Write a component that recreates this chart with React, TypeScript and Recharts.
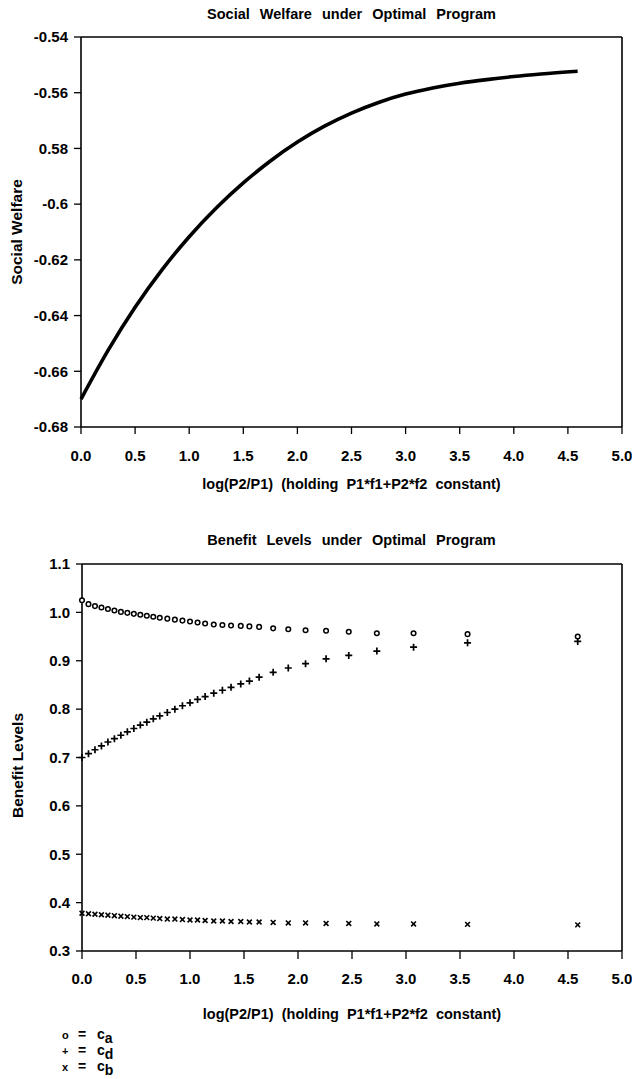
import React from "react";
import { LineChart, Line, ScatterChart, Scatter, XAxis, YAxis, ReferenceLine, Label } from "recharts";

const FONT = "'Liberation Sans', Arial, Helvetica, sans-serif";

// shared x axis
const X_TICKS = [0, 0.5, 1, 1.5, 2, 2.5, 3, 3.5, 4, 4.5, 5];
const X_TICK_LABELS = ["0.0", "0.5", "1.0", "1.5", "2.0", "2.5", "3.0", "3.5", "4.0", "4.5", "5.0"];
const X_TITLE = "log(P2/P1) (holding P1*f1+P2*f2 constant)";

// top panel: social welfare
const WELFARE_X = [0, 0.25, 0.5, 0.75, 1, 1.25, 1.5, 1.75, 2, 2.25, 2.5, 2.75, 3, 3.25, 3.5, 3.75, 4, 4.25, 4.59];
const WELFARE_Y = [
  -0.67, -0.6525, -0.637, -0.6235, -0.6117, -0.6014, -0.5924, -0.5845, -0.5777, -0.572, -0.5673, -0.5635, -0.5605,
  -0.5583, -0.5566, -0.5553, -0.5542, -0.5533, -0.5523,
];
const WELFARE_TICKS = [-0.68, -0.66, -0.64, -0.62, -0.6, -0.58, -0.56, -0.54];
const WELFARE_TICK_LABELS = ["-0.68", "-0.66", "-0.64", "-0.62", "-0.6", "0.58", "-0.56", "-0.54"];

// bottom panel: benefit levels
const BENEFIT_X = [
  0, 0.06, 0.12, 0.18, 0.24, 0.3, 0.36, 0.42, 0.48, 0.54, 0.6, 0.66, 0.72, 0.79, 0.86, 0.93, 1.0, 1.07, 1.14,
  1.22, 1.3, 1.38, 1.47, 1.55, 1.64, 1.77, 1.91, 2.07, 2.26, 2.47, 2.73, 3.07, 3.57, 4.59,
];
const CA = [
  1.025, 1.017, 1.013, 1.01, 1.007, 1.004, 1.001, 0.999, 0.997, 0.995, 0.993, 0.991, 0.989, 0.987, 0.985, 0.983,
  0.981, 0.979, 0.977, 0.975, 0.974, 0.973, 0.972, 0.971, 0.97, 0.967, 0.965, 0.963, 0.962, 0.96, 0.957, 0.957,
  0.955, 0.95,
];
const CD = [
  0.7, 0.708, 0.716, 0.724, 0.732, 0.739, 0.746, 0.753, 0.76, 0.767, 0.773, 0.78, 0.786, 0.793, 0.8, 0.807, 0.813,
  0.82, 0.826, 0.833, 0.839, 0.845, 0.852, 0.858, 0.866, 0.876, 0.885, 0.894, 0.904, 0.911, 0.92, 0.928, 0.937,
  0.94,
];
const CB = [
  0.378, 0.377, 0.376, 0.375, 0.374, 0.373, 0.372, 0.371, 0.37, 0.369, 0.369, 0.368, 0.367, 0.366, 0.366, 0.365,
  0.364, 0.364, 0.363, 0.362, 0.362, 0.361, 0.361, 0.36, 0.36, 0.359, 0.358, 0.358, 0.357, 0.357, 0.356, 0.356,
  0.355, 0.354,
];
const BENEFIT_TICKS = [0.3, 0.4, 0.5, 0.6, 0.7, 0.8, 0.9, 1.0, 1.1];
const BENEFIT_TICK_LABELS = ["0.3", "0.4", "0.5", "0.6", "0.7", "0.8", "0.9", "1.0", "1.1"];

const LEGEND_SYMBOLS = ["o", "+", "x"];
const LEGEND_SUBS = ["a", "d", "b"];

const welfareData = WELFARE_X.map((x, i) => ({ x, y: WELFARE_Y[i] }));
const caData = BENEFIT_X.map((x, i) => ({ x, y: CA[i] }));
const cdData = BENEFIT_X.map((x, i) => ({ x, y: CD[i] }));
const cbData = BENEFIT_X.map((x, i) => ({ x, y: CB[i] }));

const lookup = (ticks: number[], labels: string[]) => (v: number) => {
  const i = ticks.findIndex((t) => Math.abs(t - v) < 1e-9);
  return i >= 0 ? labels[i] : String(v);
};

const tickStyle = { fontSize: 15, fill: "#000", fontWeight: 700, fontFamily: FONT };
const axisLine = { stroke: "#000", strokeWidth: 1.6 };
const tickLine = { stroke: "#000", strokeWidth: 1.3 };
const axisTitle = { fontSize: 14.5, fontWeight: 700, fontFamily: FONT, fill: "#000", wordSpacing: 4 };
const titleStyle: React.CSSProperties = {
  position: "absolute",
  left: 81,
  width: 541,
  textAlign: "center",
  fontFamily: FONT,
  fontWeight: 700,
  fontSize: 14.5,
  wordSpacing: 6,
  color: "#000",
  lineHeight: "18px",
};

// rotated y-axis title, centred on the plot with a small vertical shift
const yTitle = (text: string, x: number, shift: number) => (props: any) => {
  const vb = props.viewBox || {};
  const cy = (vb.y || 0) + (vb.height || 0) / 2 + shift;
  return (
    <text
      x={x}
      y={cy}
      transform={`rotate(-90, ${x}, ${cy})`}
      textAnchor="middle"
      dominantBaseline="central"
      style={{ fontSize: 15.5, fontWeight: 700, fontFamily: FONT, fill: "#000" }}
    >
      {text}
    </text>
  );
};

const CircleMark = (p: any) => (
  <circle cx={p.cx} cy={p.cy} r={2.3} fill="#fff" stroke="#000" strokeWidth={1.5} />
);
const PlusMark = (p: any) => (
  <path d={`M${p.cx - 3.5},${p.cy}H${p.cx + 3.5}M${p.cx},${p.cy - 3.5}V${p.cy + 3.5}`} stroke="#000" strokeWidth={1.7} />
);
const CrossMark = (p: any) => (
  <path
    d={`M${p.cx - 2.4},${p.cy - 2.4}L${p.cx + 2.4},${p.cy + 2.4}M${p.cx - 2.4},${p.cy + 2.4}L${p.cx + 2.4},${p.cy - 2.4}`}
    stroke="#000"
    strokeWidth={1.6}
  />
);

export default function App() {
  return (
    <div style={{ position: "absolute", left: 0, top: 0, width: 632, height: 1079, background: "#fff" }}>
      <div style={{ ...titleStyle, top: 5 }}>Social Welfare under Optimal Program</div>
      <div style={{ position: "absolute", left: 0, top: 0 }}>
        <LineChart width={632} height={500} data={welfareData} margin={{ top: 37, right: 10, left: 0, bottom: 0 }}>
          <XAxis
            dataKey="x"
            type="number"
            domain={[0, 5]}
            ticks={X_TICKS}
            tickFormatter={lookup(X_TICKS, X_TICK_LABELS)}
            tick={tickStyle}
            axisLine={axisLine}
            tickLine={tickLine}
            tickSize={7}
            tickMargin={16}
            height={73}
            interval={0}
          >
            <Label value={X_TITLE} position="insideBottom" offset={11} style={axisTitle} />
          </XAxis>
          <YAxis
            type="number"
            domain={[-0.68, -0.54]}
            ticks={WELFARE_TICKS}
            tickFormatter={lookup(WELFARE_TICKS, WELFARE_TICK_LABELS)}
            tick={tickStyle}
            axisLine={axisLine}
            tickLine={tickLine}
            tickSize={7}
            tickMargin={6}
            width={81}
            interval={0}
          >
            <Label content={yTitle("Social Welfare", 16, 0)} />
          </YAxis>
          <ReferenceLine y={-0.54} stroke="#000" strokeWidth={1.6} />
          <ReferenceLine x={5} stroke="#000" strokeWidth={1.6} />
          <Line dataKey="y" type="monotone" stroke="#000" strokeWidth={3.6} dot={false} isAnimationActive={false} />
        </LineChart>
      </div>

      <div style={{ ...titleStyle, top: 531 }}>Benefit Levels under Optimal Program</div>
      <div style={{ position: "absolute", left: 0, top: 520 }}>
        <ScatterChart width={632} height={520} margin={{ top: 44, right: 10, left: 0, bottom: 0 }}>
          <XAxis
            dataKey="x"
            type="number"
            domain={[0, 5]}
            ticks={X_TICKS}
            tickFormatter={lookup(X_TICKS, X_TICK_LABELS)}
            tick={tickStyle}
            axisLine={axisLine}
            tickLine={tickLine}
            tickSize={8}
            tickMargin={14}
            height={89}
            interval={0}
          >
            <Label value={X_TITLE} position="insideBottom" offset={21} style={axisTitle} />
          </XAxis>
          <YAxis
            dataKey="y"
            type="number"
            domain={[0.3, 1.1]}
            ticks={BENEFIT_TICKS}
            tickFormatter={lookup(BENEFIT_TICKS, BENEFIT_TICK_LABELS)}
            tick={tickStyle}
            axisLine={axisLine}
            tickLine={tickLine}
            tickSize={6}
            tickMargin={6}
            width={82}
            interval={0}
          >
            <Label content={yTitle("Benefit Levels", 17, 8)} />
          </YAxis>
          <ReferenceLine y={1.1} stroke="#000" strokeWidth={1.6} />
          <ReferenceLine x={5} stroke="#000" strokeWidth={1.6} />
          <Scatter name="ca" data={caData} shape={CircleMark} isAnimationActive={false} />
          <Scatter name="cd" data={cdData} shape={PlusMark} isAnimationActive={false} />
          <Scatter name="cb" data={cbData} shape={CrossMark} isAnimationActive={false} />
        </ScatterChart>
      </div>

      <div
        style={{
          position: "absolute",
          left: 62,
          top: 1027,
          fontFamily: FONT,
          fontWeight: 700,
          fontSize: 14,
          lineHeight: "15px",
          color: "#000",
        }}
      >
        {LEGEND_SYMBOLS.map((sym, i) => (
          <div key={sym} style={{ whiteSpace: "pre" }}>
            <span style={{ display: "inline-block", width: 16, fontSize: 11 }}>{sym}</span>
            <span style={{ display: "inline-block", width: 19 }}>=</span>
            <span>c</span>
            <span style={{ position: "relative", top: 4 }}>{LEGEND_SUBS[i]}</span>
          </div>
        ))}
      </div>
    </div>
  );
}
